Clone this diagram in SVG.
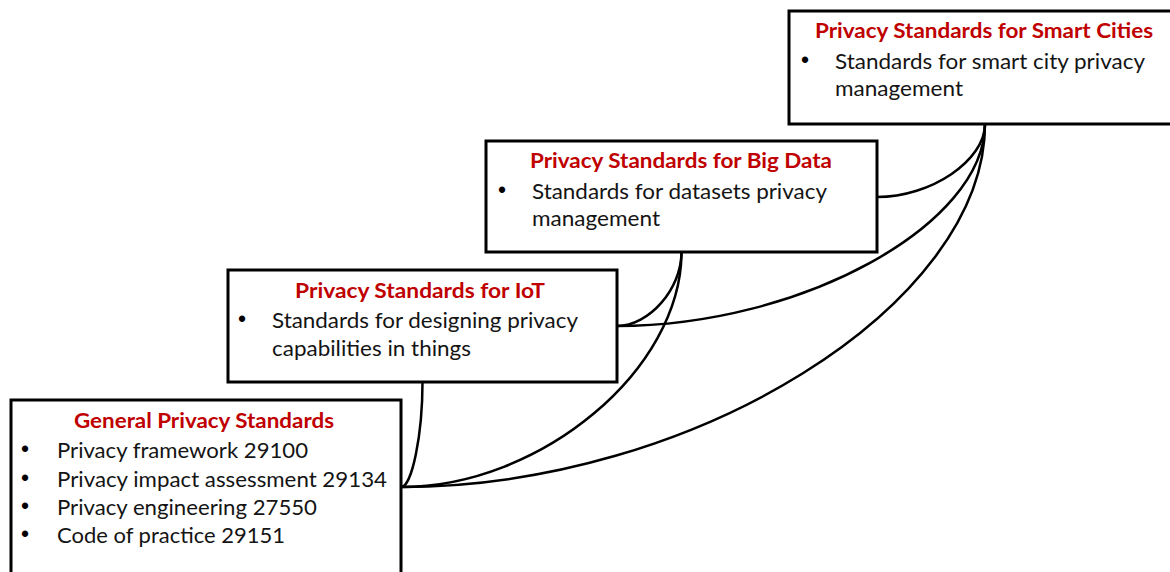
<svg xmlns="http://www.w3.org/2000/svg" width="1170" height="572" viewBox="0 0 1170 572">
  <style>
    .box { fill: #ffffff; stroke: #000000; stroke-width: 3; }
    .title { font-family: Lato, "Liberation Sans", sans-serif; font-weight: bold; font-size: 20px; fill: #c00000; }
    .body { font-family: Lato, "Liberation Sans", sans-serif; font-size: 21.5px; fill: #141414; }
    .bullet { font-family: "Liberation Sans", sans-serif; font-size: 23px; fill: #000000; text-anchor: middle; }
    .link { fill: none; stroke: #000000; stroke-width: 2.5; }
  </style>

  <rect width="1170" height="572" fill="#ffffff"/>

  <!-- Smart cities layer (top step) -->
  <g id="smart-cities">
    <rect class="box" x="789" y="11" width="392" height="113"/>
    <text class="title" x="815" y="38" textLength="338" lengthAdjust="spacingAndGlyphs">Privacy Standards for Smart Cities</text>
    <text class="bullet" x="805" y="68">•</text>
    <text class="body" x="835" y="69" textLength="310" lengthAdjust="spacingAndGlyphs">Standards for smart city privacy</text>
    <text class="body" x="835" y="96" textLength="128" lengthAdjust="spacingAndGlyphs">management</text>
  </g>

  <!-- Big data layer -->
  <g id="big-data">
    <rect class="box" x="486" y="141" width="391" height="111"/>
    <text class="title" x="530" y="168" textLength="302" lengthAdjust="spacingAndGlyphs">Privacy Standards for Big Data</text>
    <text class="bullet" x="502" y="198">•</text>
    <text class="body" x="532" y="199" textLength="295" lengthAdjust="spacingAndGlyphs">Standards for datasets privacy</text>
    <text class="body" x="532" y="226" textLength="128" lengthAdjust="spacingAndGlyphs">management</text>
  </g>

  <!-- IoT layer -->
  <g id="iot">
    <rect class="box" x="228" y="270" width="389" height="112"/>
    <text class="title" x="295" y="298" textLength="250" lengthAdjust="spacingAndGlyphs">Privacy Standards for IoT</text>
    <text class="bullet" x="242" y="327">•</text>
    <text class="body" x="272" y="328" textLength="306" lengthAdjust="spacingAndGlyphs">Standards for designing privacy</text>
    <text class="body" x="272" y="355.5" textLength="199" lengthAdjust="spacingAndGlyphs">capabilities in things</text>
  </g>

  <!-- General layer (bottom step) -->
  <g id="general">
    <rect class="box" x="11" y="400" width="390" height="185"/>
    <text class="title" x="74" y="428" textLength="260" lengthAdjust="spacingAndGlyphs">General Privacy Standards</text>
    <text class="bullet" x="25" y="457">•</text>
    <text class="body" x="57" y="458.3" textLength="251" lengthAdjust="spacingAndGlyphs">Privacy framework 29100</text>
    <text class="bullet" x="25" y="485.5">•</text>
    <text class="body" x="57" y="486.7" textLength="330" lengthAdjust="spacingAndGlyphs">Privacy impact assessment 29134</text>
    <text class="bullet" x="25" y="514">•</text>
    <text class="body" x="57" y="515.2" textLength="260" lengthAdjust="spacingAndGlyphs">Privacy engineering 27550</text>
    <text class="bullet" x="25" y="542">•</text>
    <text class="body" x="57" y="543.4" textLength="228" lengthAdjust="spacingAndGlyphs">Code of practice 29151</text>
  </g>

  <!-- Curved connectors: bottom centre of each layer to the right side of every lower layer -->
  <g id="connectors">
    <path class="link" d="M985,124 C985,160.5 931,197 877,197"/>
    <path class="link" d="M985,124 C985,225 801,326 617,326"/>
    <path class="link" d="M985,124 C985,305.5 693,487 401,487"/>
    <path class="link" d="M681.5,252 C681.5,289 649,326 617,326"/>
    <path class="link" d="M681.5,252 C681.5,369.5 541,487 401,487"/>
    <path class="link" d="M422.5,382 C422.5,434.5 412,487 401,487"/>
  </g>
</svg>
